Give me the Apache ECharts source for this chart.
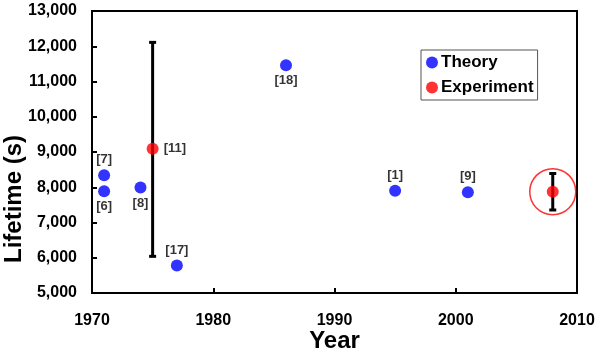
<!DOCTYPE html>
<html>
<head>
<meta charset="utf-8">
<script src="https://cdn.jsdelivr.net/npm/echarts@6/dist/echarts.min.js"></script>
<style>
  html, body { margin: 0; padding: 0; background: #fff; }
  #chart { width: 600px; height: 352px; }
</style>
</head>
<body>
<div id="chart"></div>
<script>
// theory points (year, lifetime in s) and their reference tags
var theoryYears = [1971, 1971, 1974, 1977, 1986, 1995, 2001];
var theoryValues = [8340, 7885, 7990, 5780, 11460, 7900, 7860];
var theoryRefs = ['[7]', '[6]', '[8]', '[17]', '[18]', '[1]', '[9]'];

// experiments, with error bar limits
var expYears = [1975, 2008];
var expValues = [9090, 7875];
var expRefs = ['[11]', ''];
var expLow = [6040, 7355];
var expHigh = [12110, 8390];

var xTicks = [1970, 1980, 1990, 2000, 2010];
var yTicks = [5000, 6000, 7000, 8000, 9000, 10000, 11000, 12000, 13000];

// where each tag sits next to its dot
var tagSide = { '[7]': 'top', '[6]': 'bottom', '[8]': 'bottom', '[17]': 'top',
  '[18]': 'bottom', '[1]': 'top', '[9]': 'top', '[11]': 'right' };

var FONT = 'Liberation Sans, Arial, sans-serif';

function fmt(v) {
  return String(v).replace(/\B(?=(\d{3})+(?!\d))/g, ',');
}

function pointsOf(years, values, refs) {
  return years.map(function (y, i) {
    return {
      value: [y, values[i]],
      label: {
        show: refs[i] !== '',
        formatter: refs[i],
        position: tagSide[refs[i]] || 'top',
        distance: refs[i] === '[11]' ? 5 : 3
      }
    };
  });
}

var myChart = echarts.init(document.getElementById('chart'));
myChart.setOption({
  animation: false,
  grid: {
    left: 92, right: 23, top: 11, bottom: 59,
    outerBoundsMode: 'none',
    containLabel: false,
    show: true,
    borderColor: '#000',
    borderWidth: 2
  },
  legend: {
    orient: 'vertical',
    left: 421,
    top: 50,
    width: 118,
    padding: [4, 4, 4, 5],
    itemGap: 8,
    itemWidth: 12,
    itemHeight: 12,
    icon: 'circle',
    borderColor: '#555',
    borderWidth: 1,
    data: ['Theory', 'Experiment'],
    textStyle: { fontFamily: FONT, fontWeight: 'bold', fontSize: 17, color: '#000', padding: [0, 0, 0, -2] }
  },
  xAxis: {
    type: 'value',
    min: xTicks[0],
    max: xTicks[xTicks.length - 1],
    interval: 10,
    name: 'Year',
    nameLocation: 'middle',
    nameGap: 36,
    nameMoveOverlap: false,
    nameTextStyle: { fontFamily: FONT, fontWeight: 'bold', fontSize: 24, color: '#000' },
    axisLine: { lineStyle: { color: '#000', width: 2 } },
    axisTick: { inside: true, length: 5, lineStyle: { color: '#000', width: 2 } },
    splitLine: { show: false },
    axisLabel: {
      fontFamily: FONT, fontWeight: 'bold', fontSize: 16, color: '#000', margin: 20,
      formatter: function (v) { return String(v); }
    }
  },
  yAxis: {
    type: 'value',
    min: yTicks[0],
    max: yTicks[yTicks.length - 1],
    interval: 1000,
    name: 'Lifetime (s)',
    nameLocation: 'middle',
    nameGap: 66,
    nameMoveOverlap: false,
    nameTextStyle: { fontFamily: FONT, fontWeight: 'bold', fontSize: 24, color: '#000', padding: [0, 94, 0, 0] },
    axisLine: { lineStyle: { color: '#000', width: 2 } },
    axisTick: { inside: true, length: 5, lineStyle: { color: '#000', width: 2 } },
    splitLine: { show: false },
    axisLabel: {
      fontFamily: FONT, fontWeight: 'bold', fontSize: 16, color: '#000', margin: 15,
      formatter: function (v) { return fmt(v); }
    }
  },
  series: [
    {
      name: 'errbar',
      type: 'custom',
      z: 1,
      silent: true,
      data: expYears.map(function (y, i) { return [y, expLow[i], expHigh[i]]; }),
      renderItem: function (params, api) {
        var lo = api.coord([api.value(0), api.value(1)]);
        var hi = api.coord([api.value(0), api.value(2)]);
        var cap = 3.5;
        var st = { stroke: '#000', lineWidth: 3 };
        return {
          type: 'group',
          children: [
            { type: 'line', shape: { x1: lo[0], y1: lo[1], x2: hi[0], y2: hi[1] }, style: st },
            { type: 'line', shape: { x1: lo[0] - cap, y1: lo[1], x2: lo[0] + cap, y2: lo[1] }, style: st },
            { type: 'line', shape: { x1: hi[0] - cap, y1: hi[1], x2: hi[0] + cap, y2: hi[1] }, style: st }
          ]
        };
      }
    },
    {
      name: 'ring',
      type: 'scatter',
      z: 1,
      silent: true,
      symbol: 'circle',
      symbolSize: 46,
      itemStyle: { color: 'rgba(0,0,0,0)', borderColor: '#ff0000', borderWidth: 1.5 },
      data: [[expYears[1], expValues[1]]]
    },
    {
      name: 'Theory',
      type: 'scatter',
      z: 3,
      symbolSize: 12,
      itemStyle: { color: '#0000ff' },
      label: { fontFamily: FONT, fontWeight: 'bold', fontSize: 13, color: '#000' },
      data: pointsOf(theoryYears, theoryValues, theoryRefs)
    },
    {
      name: 'Experiment',
      type: 'scatter',
      z: 3,
      symbolSize: 12,
      itemStyle: { color: '#ff0000' },
      label: { fontFamily: FONT, fontWeight: 'bold', fontSize: 13, color: '#000' },
      data: pointsOf(expYears, expValues, expRefs)
    }
  ]
});
</script>
</body>
</html>
